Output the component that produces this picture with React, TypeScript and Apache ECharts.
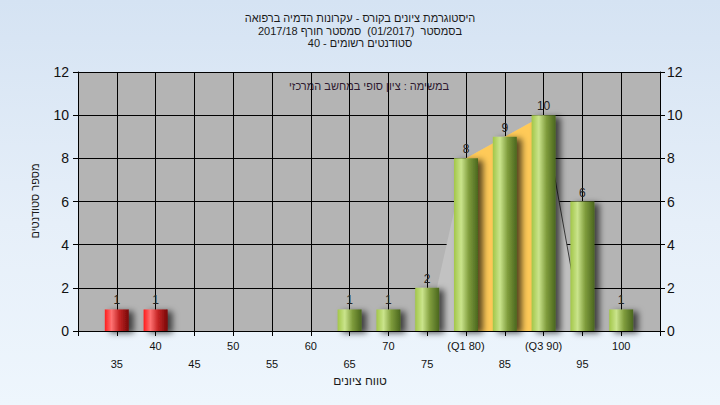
import React, { useEffect, useRef } from "react";
import * as echarts from "echarts";

// ---- data ----
const titleLines = [
  "היסטוגרמת ציונים בקורס - עקרונות הדמיה ברפואה",
  "בסמסטר  (01/2017)  סמסטר חורף 2017/18",
  "סטודנטים רשומים - 40",
];
const noteText = "במשימה : ציון סופי במחשב המרכזי";
const xAxisName = "טווח ציונים";
const yAxisName = "מספר סטודנטים";

const gradeBins = [35, 40, 45, 50, 55, 60, 65, 70, 75, 80, 85, 90, 95, 100];
const studentCounts = [1, 1, 0, 0, 0, 0, 1, 1, 2, 8, 9, 10, 6, 1];
const tickValues = [35, 40, 45, 50, 55, 60, 65, 70, 75, 80, 85, 90, 95, 100];
const tickLabels = ["35", "40", "45", "50", "55", "60", "65", "70", "75", "(Q1 80)", "85", "(Q3 90)", "95", "100"];
const passGrade = 55;

// background distribution area and interquartile range (Q1..Q3)
const areaX = [75, 80, 85, 90, 95];
const areaY = [0, 8, 9, 10, 0];
const iqrX = [80, 85, 90];
const iqrY = [8, 9, 10];

const FONT = "'Liberation Sans', Arial, sans-serif";

export default function App() {
  const ref = useRef<HTMLDivElement>(null);

  useEffect(() => {
    if (!ref.current) return;
    const chart = echarts.init(ref.current, undefined, { renderer: "svg" });

    const redGrad = new echarts.graphic.LinearGradient(0, 0, 1, 0, [
      { offset: 0, color: "#ff1c1c" },
      { offset: 0.28, color: "#ff7272" },
      { offset: 0.6, color: "#c42424" },
      { offset: 1, color: "#760808" },
    ]);
    const greenGrad = new echarts.graphic.LinearGradient(0, 0, 1, 0, [
      { offset: 0, color: "#a2c648" },
      { offset: 0.3, color: "#cae48c" },
      { offset: 0.62, color: "#7f9c3c" },
      { offset: 1, color: "#4a661e" },
    ]);

    const barData = gradeBins
      .map((g, i) => ({ g, v: studentCounts[i] }))
      .filter((d) => d.v > 0)
      .map((d) => ({
        value: [d.g, d.v],
        itemStyle: { color: d.g < passGrade ? redGrad : greenGrad },
      }));

    const labelFor = (v: number) => {
      const idx = tickValues.indexOf(v);
      if (idx < 0) return "";
      const lbl = tickLabels[idx];
      return (v / 5) % 2 === 1 ? "\n" + lbl : lbl;
    };

    const axisColor = "#000";

    chart.setOption({
      animation: false,
      backgroundColor: "transparent",
      textStyle: { fontFamily: FONT },
      grid: { left: 78, right: 60, top: 72, bottom: 74, show: true, backgroundColor: "#b4b4b4", borderWidth: 0 },
      graphic: [
        {
          type: "text",
          left: "center",
          top: 12,
          style: {
            text: titleLines.join("\n"),
            font: `11px ${FONT}`,
            fill: "#1a1a1a",
            textAlign: "center",
            lineHeight: 12.5,
          },
        },
        {
          type: "text",
          x: 369,
          y: 86,
          style: {
            text: noteText,
            font: `11px ${FONT}`,
            fill: "#2e1a30",
            textAlign: "center",
            textVerticalAlign: "middle",
          },
        },
        {
          type: "text",
          x: 360,
          y: 381,
          style: {
            text: xAxisName,
            font: `12px ${FONT}`,
            fill: "#1a1a1a",
            textAlign: "center",
            textVerticalAlign: "middle",
          },
        },
        {
          type: "text",
          x: 35,
          y: 201,
          rotation: Math.PI / 2,
          style: {
            text: yAxisName,
            font: `11px ${FONT}`,
            fill: "#1a1a1a",
            textAlign: "center",
            textVerticalAlign: "middle",
          },
        },
      ],
      xAxis: {
        type: "value",
        min: 30,
        max: 105,
        interval: 5,
        axisLine: { show: true, lineStyle: { color: axisColor, width: 1 } },
        axisTick: { show: true, length: 5, lineStyle: { color: axisColor } },
        splitLine: { show: true, lineStyle: { color: axisColor, width: 1 } },
        axisLabel: {
          formatter: (v: number) => labelFor(v),
          color: "#111",
          fontSize: 11,
          lineHeight: 18,
          margin: 6,
          showMinLabel: true,
          showMaxLabel: true,
        },
      },
      yAxis: [
        {
          type: "value",
          min: 0,
          max: 12,
          interval: 2,
          position: "left",
          axisLine: { show: true, lineStyle: { color: axisColor, width: 1 } },
          axisTick: { show: true, length: 5, lineStyle: { color: axisColor } },
          splitLine: { show: true, lineStyle: { color: axisColor, width: 1 } },
          axisLabel: { color: "#111", fontSize: 14, margin: 9 },
        },
        {
          type: "value",
          min: 0,
          max: 12,
          interval: 2,
          position: "right",
          axisLine: { show: true, lineStyle: { color: axisColor, width: 1 } },
          axisTick: { show: true, length: 5, lineStyle: { color: axisColor } },
          splitLine: { show: false },
          axisLabel: { color: "#111", fontSize: 14, margin: 7 },
        },
      ],
      series: [
        {
          type: "line",
          z: 1,
          data: areaX.map((x, i) => [x, areaY[i]]),
          symbol: "none",
          lineStyle: { width: 0, opacity: 0 },
          areaStyle: { color: "#c2c2c2", opacity: 1 },
          silent: true,
        },
        {
          type: "line",
          z: 1,
          data: iqrX.map((x, i) => [x, iqrY[i]]),
          symbol: "none",
          lineStyle: { width: 0, opacity: 0 },
          areaStyle: { color: "#ffca58", opacity: 1 },
          silent: true,
        },
        {
          type: "line",
          z: 1,
          data: areaX.slice(3).map((x, i) => [x, areaY[i + 3]]),
          symbol: "none",
          lineStyle: { width: 1, color: "#3a3a3a" },
          silent: true,
        },
        {
          type: "bar",
          z: 3,
          barWidth: 24,
          data: barData,
          itemStyle: {
            shadowColor: "rgba(0,0,0,0.65)",
            shadowBlur: 6,
            shadowOffsetX: 5,
            shadowOffsetY: 2,
          },
          label: {
            show: true,
            position: "top",
            distance: 3,
            color: "#222",
            fontSize: 12,
            formatter: (p: any) => String(p.value[1]),
          },
        },
      ],
    });

    return () => chart.dispose();
  }, []);

  return (
    <div
      style={{
        position: "fixed",
        left: 0,
        top: 0,
        width: 720,
        height: 405,
        background: "linear-gradient(180deg, #d5e3f3 0%, #e6eff9 55%, #eef6fd 100%)",
      }}
    >
      <div ref={ref} style={{ width: 720, height: 405 }} />
    </div>
  );
}
